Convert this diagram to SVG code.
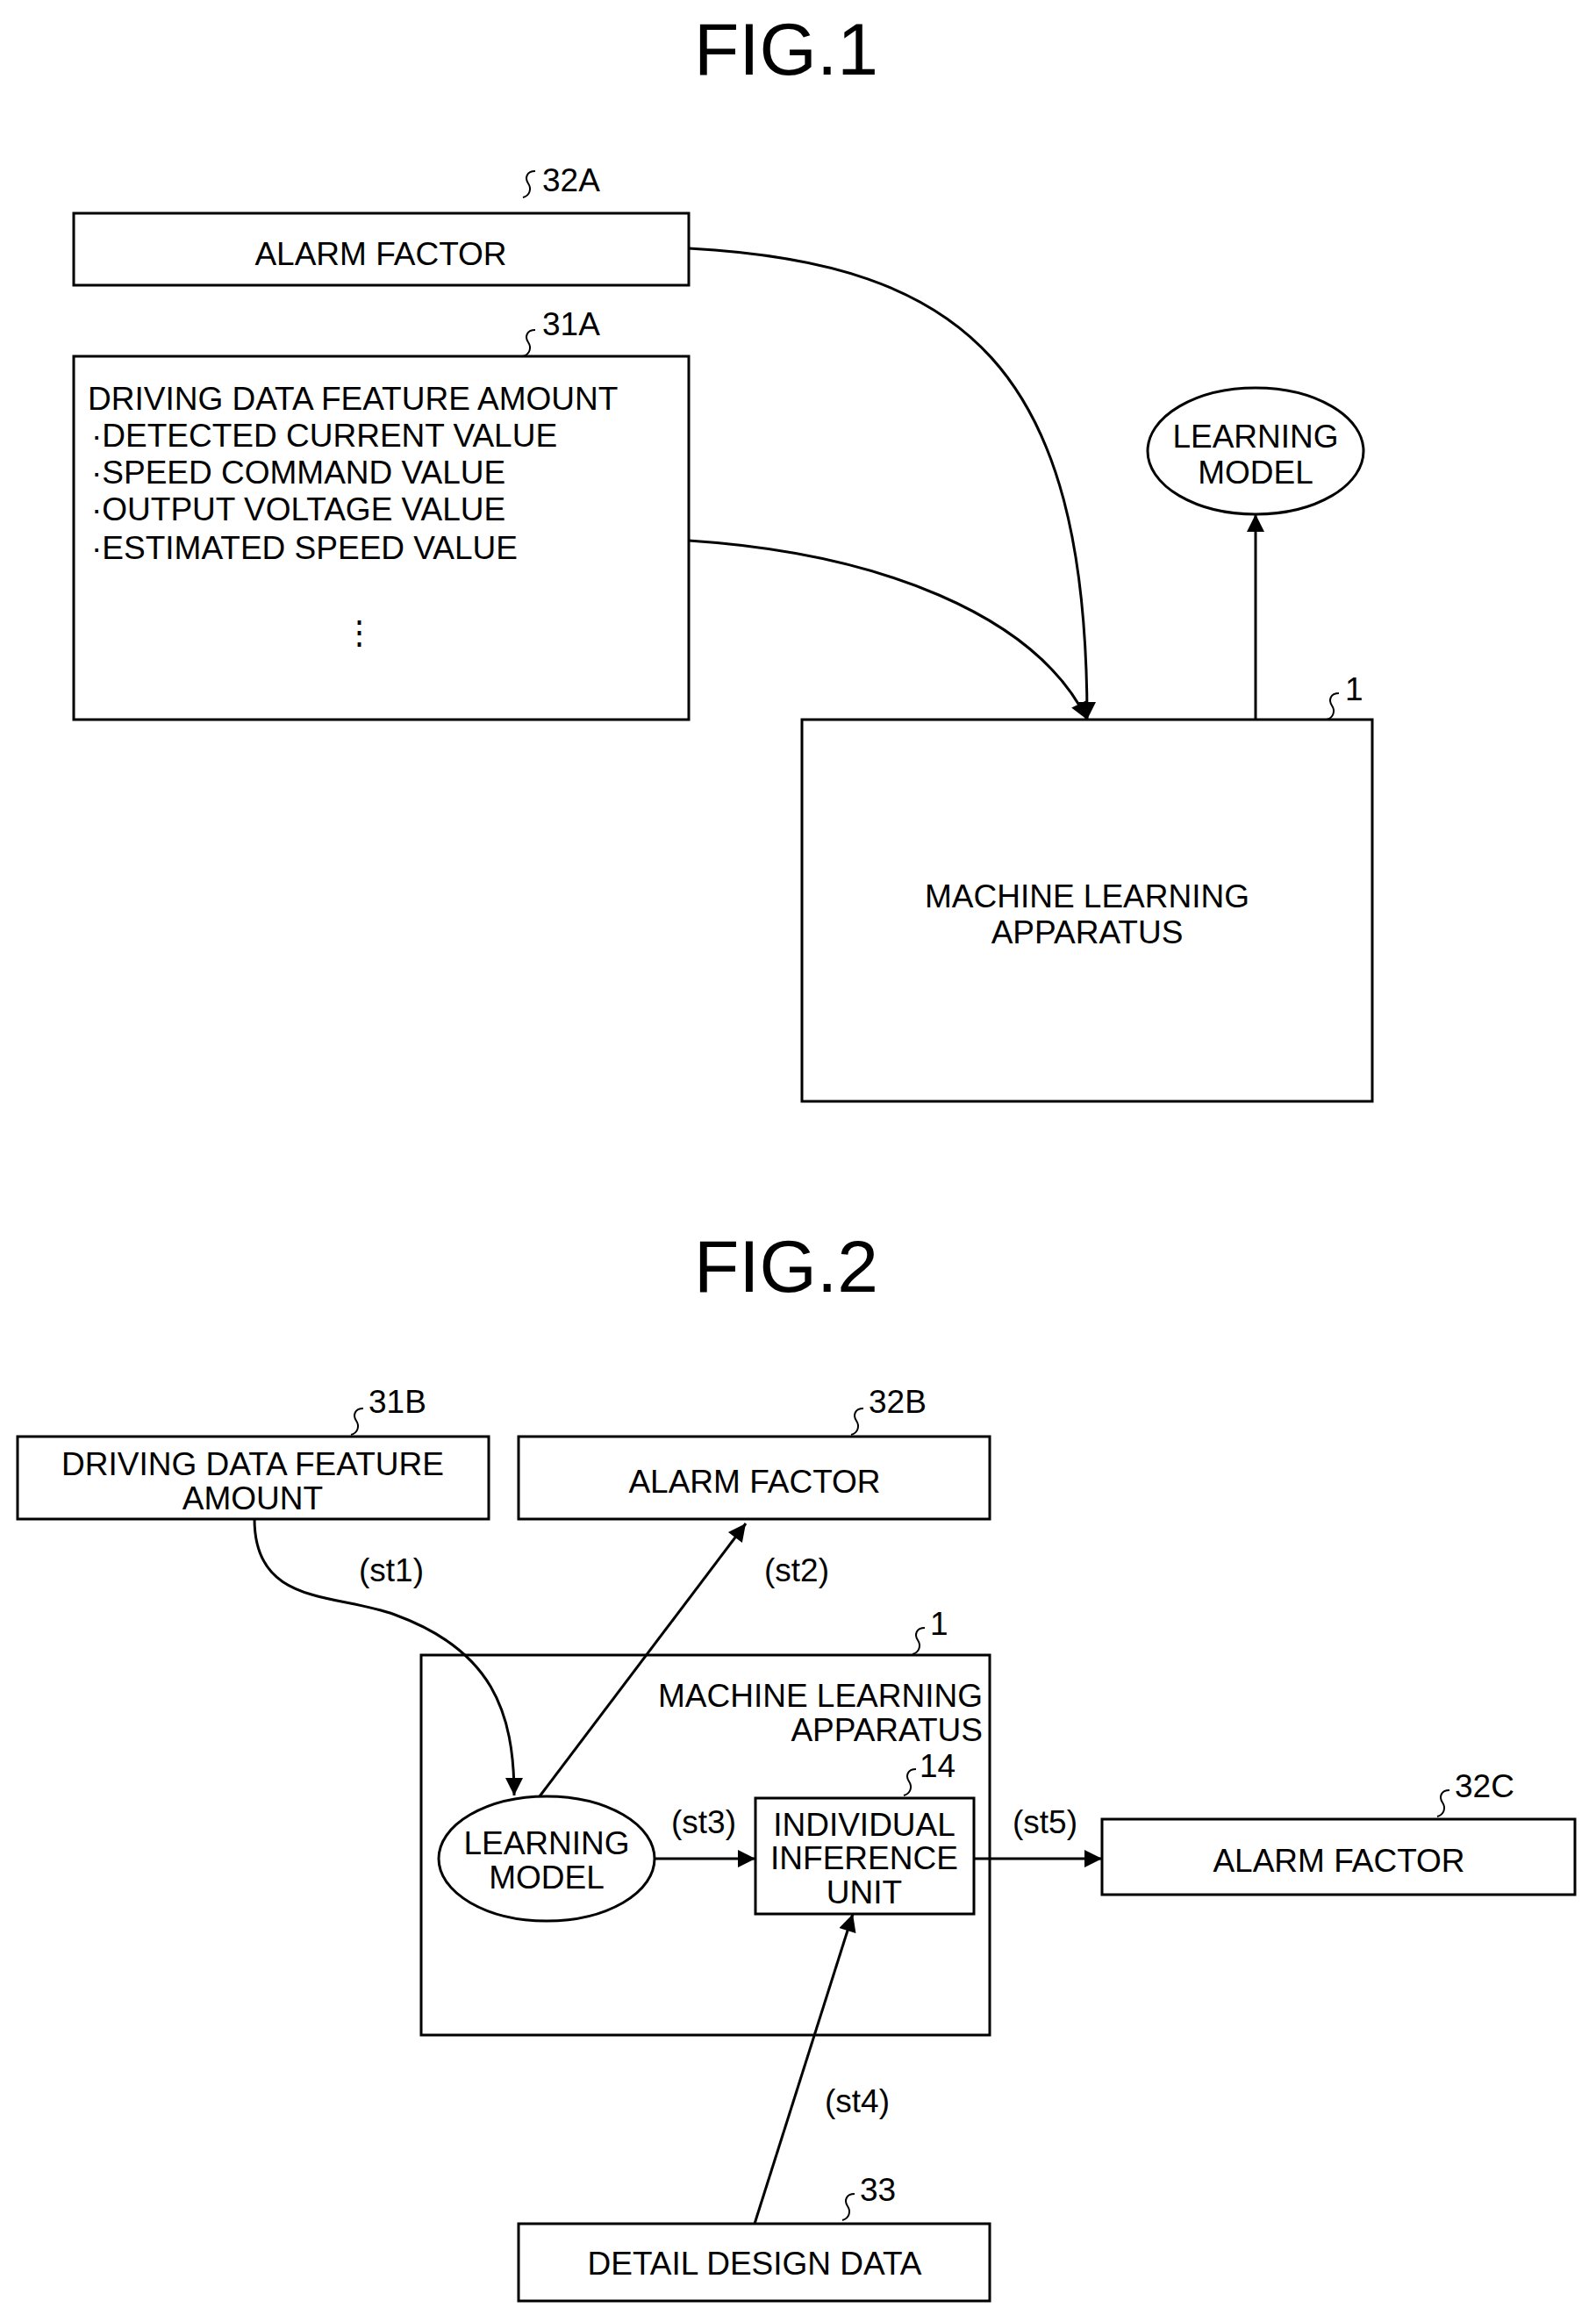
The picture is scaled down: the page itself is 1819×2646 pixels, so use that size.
<svg xmlns="http://www.w3.org/2000/svg" xmlns:xlink="http://www.w3.org/1999/xlink" width="1819" height="2646" viewBox="0 0 1819 2646">
<style>
text{font-family:"Liberation Sans",Arial,sans-serif;font-size:37px;fill:#000}
.t{font-size:84px;text-anchor:middle}
.c{text-anchor:middle}
.b{fill:#fff;stroke:#000;stroke-width:3}
.e{fill:none;stroke:#000;stroke-width:3}
.sq{fill:none;stroke:#000;stroke-width:2}
</style>
<defs>
<marker id="a" viewBox="0 0 10 10" refX="10" refY="5" markerWidth="8" markerHeight="8" markerUnits="userSpaceOnUse" orient="auto"><path d="M0,0 L10,5 L0,10 z"/></marker>
<marker id="ah" viewBox="0 0 10 10" refX="10" refY="5" markerWidth="24" markerHeight="20" markerUnits="userSpaceOnUse" orient="auto"><path d="M0,0 L10,5 L0,10 z"/></marker>
<path id="sq" d="M14,0 C4,0 2,8 6,14 C10,20 8,28 0,30"/>
</defs>
<text class="t" x="896" y="85">FIG.1</text>
<g id="n32A"><rect class="b" x="84" y="243" width="701" height="82"/><text class="c" x="434" y="302">ALARM FACTOR</text><use href="#sq" class="sq" x="596" y="195"/><text x="618" y="218">32A</text></g>
<g id="n31A"><rect class="b" x="84" y="406" width="701" height="414"/>
<text x="100" y="467">DRIVING DATA FEATURE AMOUNT</text>
<text x="104" y="509">·DETECTED CURRENT VALUE</text>
<text x="104" y="551">·SPEED COMMAND VALUE</text>
<text x="104" y="593">·OUTPUT VOLTAGE VALUE</text>
<text x="104" y="637">·ESTIMATED SPEED VALUE</text>
<text class="c" x="409" y="733">⋮</text>
<use href="#sq" class="sq" x="596" y="376"/><text x="618" y="382">31A</text></g>
<g id="nLM1"><ellipse class="b" cx="1431" cy="514" rx="123" ry="72"/><text class="c" x="1431" y="510">LEARNING</text><text class="c" x="1431" y="551">MODEL</text></g>
<g id="n1"><rect class="b" x="914" y="820" width="650" height="435"/><text class="c" x="1239" y="1034">MACHINE LEARNING</text><text class="c" x="1239" y="1075">APPARATUS</text><use href="#sq" class="sq" x="1512" y="790"/><text x="1533" y="798">1</text></g>
<text class="t" x="896" y="1472">FIG.2</text>
<g id="n31B"><rect class="b" x="20" y="1637" width="537" height="94"/><text class="c" x="288" y="1681">DRIVING DATA FEATURE</text><text class="c" x="288" y="1720">AMOUNT</text><use href="#sq" class="sq" x="400" y="1605"/><text x="420" y="1610">31B</text></g>
<g id="n32B"><rect class="b" x="591" y="1637" width="537" height="94"/><text class="c" x="860" y="1701">ALARM FACTOR</text><use href="#sq" class="sq" x="970" y="1605"/><text x="990" y="1610">32B</text></g>
<g id="n1b"><rect class="b" x="480" y="1886" width="648" height="433"/><text x="1120" y="1945" text-anchor="end">MACHINE LEARNING</text><text x="1120" y="1984" text-anchor="end">APPARATUS</text><use href="#sq" class="sq" x="1040" y="1855"/><text x="1060" y="1863">1</text></g>
<g id="nLM2"><ellipse class="b" cx="623" cy="2118" rx="123" ry="71"/><text class="c" x="623" y="2113">LEARNING</text><text class="c" x="623" y="2152">MODEL</text></g>
<g id="n14"><rect class="b" x="861" y="2049" width="249" height="132"/><text class="c" x="985" y="2092">INDIVIDUAL</text><text class="c" x="985" y="2130">INFERENCE</text><text class="c" x="985" y="2169">UNIT</text><use href="#sq" class="sq" x="1030" y="2016"/><text x="1048" y="2025">14</text></g>
<g id="n32C"><rect class="b" x="1256" y="2073" width="539" height="86"/><text class="c" x="1526" y="2133">ALARM FACTOR</text><use href="#sq" class="sq" x="1638" y="2040"/><text x="1658" y="2048">32C</text></g>
<g id="n33"><rect class="b" x="591" y="2534" width="537" height="88"/><text class="c" x="860" y="2592">DETAIL DESIGN DATA</text><use href="#sq" class="sq" x="960" y="2500"/><text x="980" y="2508">33</text></g>
<g id="connectors">
<path class="e" marker-end="url(#ah)" d="M785,283 C1100,300 1239,420 1239,820"/>
<path class="e" marker-end="url(#ah)" d="M785,616 C1000,630 1180,700 1239,820"/>
<path class="e" marker-end="url(#ah)" d="M1431,820 L1431,586"/>
<path class="e" marker-end="url(#ah)" d="M290,1731 C290,1830 380,1815 450,1840 C560,1880 586,1950 586,2046"/>
<path class="e" marker-end="url(#ah)" d="M615,2047 L850,1736"/>
<path class="e" marker-end="url(#ah)" d="M746,2118 L861,2118"/>
<path class="e" marker-end="url(#ah)" d="M860,2534 L972,2181"/>
<path class="e" marker-end="url(#ah)" d="M1110,2118 L1256,2118"/>
<text class="c" x="446" y="1802">(st1)</text>
<text class="c" x="908" y="1802">(st2)</text>
<text class="c" x="802" y="2089">(st3)</text>
<text class="c" x="977" y="2407">(st4)</text>
<text class="c" x="1191" y="2089">(st5)</text>
</g>
</svg>
